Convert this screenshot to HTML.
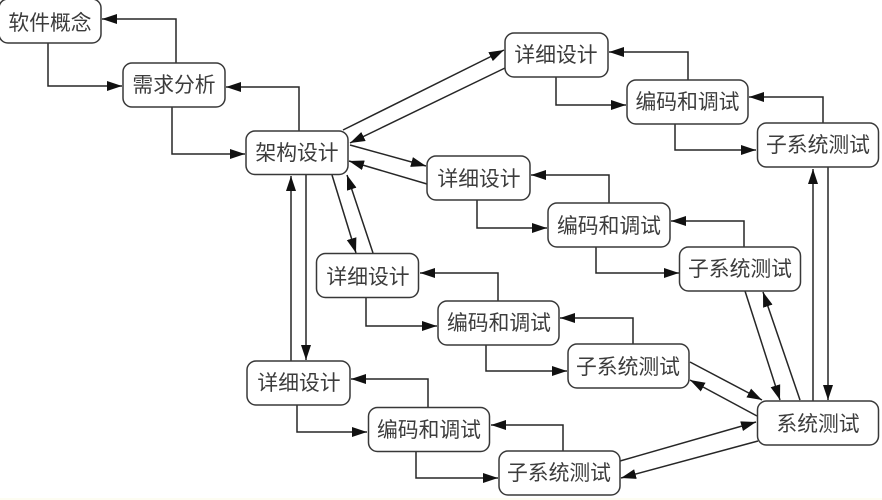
<!DOCTYPE html>
<html lang="zh"><head><meta charset="utf-8"><title>软件开发流程</title>
<style>
html,body{margin:0;padding:0;background:#fff;width:882px;height:500px;overflow:hidden}
svg{display:block;filter:blur(.35px)}
text{font-family:"Liberation Sans","Noto Sans CJK SC",sans-serif;font-size:20.8px;fill:#3c3c3c;text-anchor:middle}
rect.n{fill:#fff;stroke:#383838;stroke-width:1.5}
.c path,.c line{fill:none;stroke:#262626;stroke-width:1.5;marker-end:url(#a)}
</style></head><body>
<svg width="882" height="500" viewBox="0 0 882 500" xmlns="http://www.w3.org/2000/svg">
<defs><marker id="a" markerUnits="userSpaceOnUse" markerWidth="16" markerHeight="12" refX="15" refY="5.5" orient="auto"><path d="M0 0.5L15 5.5L0 10.5Z" fill="#111"/></marker></defs>
<rect x="0" y="498" width="882" height="2" fill="#fdfdf2"/>
<g class="c">
<path d="M176 63V19H102"/>
<path d="M48 43V86H122"/>
<path d="M299 131V87H226"/>
<path d="M172 107V154H245"/>
<line x1="343" y1="130" x2="504" y2="50"/>
<line x1="505" y1="68" x2="350" y2="143"/>
<line x1="350" y1="145" x2="426" y2="166"/>
<line x1="427" y1="184" x2="349" y2="161"/>
<line x1="332" y1="175" x2="356" y2="253"/>
<line x1="373" y1="253" x2="347" y2="175"/>
<line x1="291" y1="361" x2="291" y2="176"/>
<line x1="306" y1="175" x2="306" y2="360"/>
<path d="M688 80V52H609"/>
<path d="M556 77V105H626"/>
<path d="M823 123V97H749"/>
<path d="M675 124V150H756"/>
<path d="M609 203V175H531"/>
<path d="M477 200V228H547"/>
<path d="M744 247V221H671"/>
<path d="M596 247V273H679"/>
<path d="M498 301V273H420"/>
<path d="M366 298V326H437"/>
<path d="M633 344V318H560"/>
<path d="M486 345V371H567"/>
<path d="M428 407V379H351"/>
<path d="M297 405V432H367"/>
<path d="M563 451V425H491"/>
<path d="M416 452V478H498"/>
<line x1="813" y1="401" x2="813" y2="169"/>
<line x1="828" y1="167" x2="828" y2="400"/>
<line x1="745" y1="291" x2="780" y2="400"/>
<line x1="800" y1="400" x2="763" y2="292"/>
<line x1="690" y1="362" x2="762" y2="400"/>
<line x1="757" y1="416" x2="690" y2="380"/>
<line x1="620" y1="461" x2="756" y2="422"/>
<line x1="758" y1="441" x2="621" y2="478"/>
</g>
<g>
<rect class="n" x="-1" y="-1" width="102" height="44" rx="9"/><text x="50" y="30">软件概念</text>
<rect class="n" x="123" y="63" width="102" height="44" rx="9"/><text x="174" y="92">需求分析</text>
<rect class="n" x="246" y="131" width="102" height="43.500" rx="9"/><text x="297" y="160">架构设计</text>
<rect class="n" x="505" y="33" width="103" height="44" rx="9"/><text x="556" y="62">详细设计</text>
<rect class="n" x="627" y="80" width="121" height="44" rx="9"/><text x="687.500" y="109">编码和调试</text>
<rect class="n" x="757.500" y="123" width="121" height="44" rx="9"/><text x="818" y="152">子系统测试</text>
<rect class="n" x="427" y="156" width="103" height="44" rx="9"/><text x="479" y="186">详细设计</text>
<rect class="n" x="548" y="203" width="122" height="44" rx="9"/><text x="609" y="233">编码和调试</text>
<rect class="n" x="679.500" y="247" width="121" height="44" rx="9"/><text x="740" y="276">子系统测试</text>
<rect class="n" x="316.500" y="253.500" width="102" height="44" rx="9"/><text x="368" y="284">详细设计</text>
<rect class="n" x="438" y="301" width="121" height="44" rx="9"/><text x="499" y="330">编码和调试</text>
<rect class="n" x="568" y="344" width="121" height="44" rx="9"/><text x="628" y="374">子系统测试</text>
<rect class="n" x="247" y="361" width="103" height="44" rx="9"/><text x="299" y="390">详细设计</text>
<rect class="n" x="368.500" y="407.500" width="121" height="44" rx="9"/><text x="429" y="437">编码和调试</text>
<rect class="n" x="499" y="451" width="121" height="44" rx="9"/><text x="559" y="480">子系统测试</text>
<rect class="n" x="757.500" y="401" width="121" height="44" rx="9"/><text x="818" y="431">系统测试</text>
</g>
</svg>
</body></html>
